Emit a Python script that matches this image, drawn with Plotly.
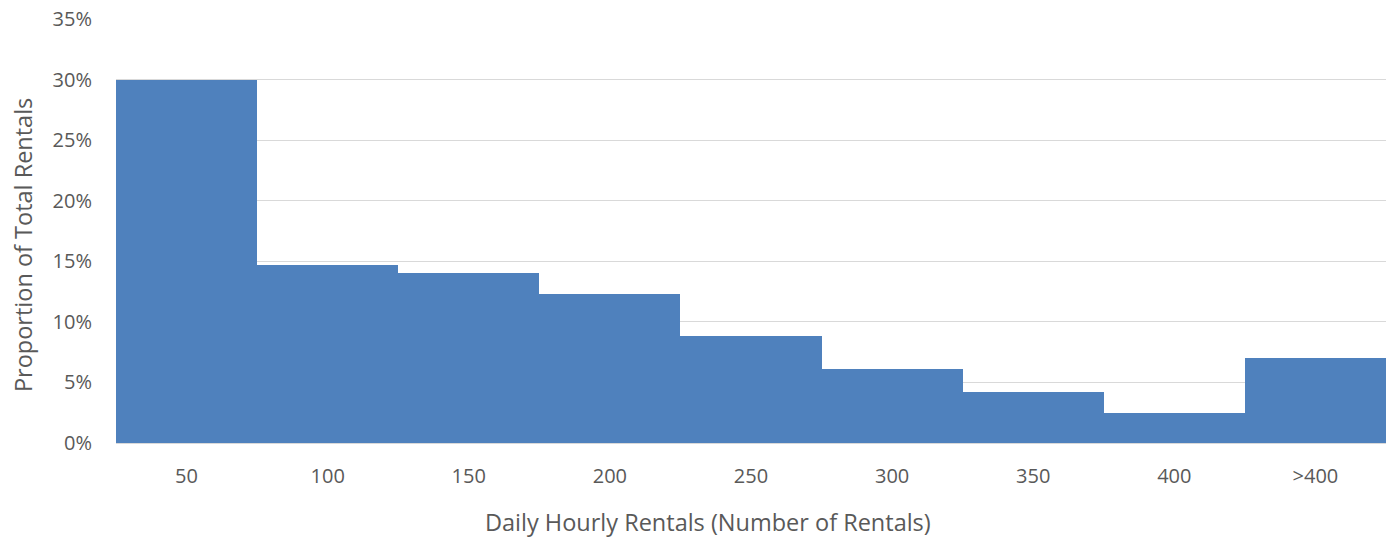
import plotly.graph_objects as go

# Daily hourly rental buckets and their share of total rentals
categories = ["50", "100", "150", "200", "250", "300", "350", "400", ">400"]
proportions = [0.300, 0.147, 0.140, 0.123, 0.088, 0.061, 0.042, 0.025, 0.070]

x_title = "Daily Hourly Rentals (Number of Rentals)"
y_title = "Proportion of Total Rentals"

fig = go.Figure(
    go.Bar(
        x=categories,
        y=proportions,
        marker=dict(color="#4F81BD", line=dict(width=0)),
        hoverinfo="x+y",
    )
)

font_family = "'Open Sans', sans-serif"
text_color = "#595959"

fig.update_layout(
    width=1392,
    height=539,
    margin=dict(l=116, r=6, t=19, b=96),
    paper_bgcolor="white",
    plot_bgcolor="white",
    bargap=0,
    showlegend=False,
    font=dict(family=font_family, color=text_color, size=20),
    xaxis=dict(
        type="category",
        showgrid=False,
        showline=True,
        linecolor="#D9D9D9",
        linewidth=1,
        ticks="",
        ticklabelstandoff=15,
        tickfont=dict(size=20, color=text_color),
    ),
    yaxis=dict(
        range=[0, 0.35],
        tickvals=[0, 0.05, 0.10, 0.15, 0.20, 0.25, 0.30, 0.35],
        tickformat=".0%",
        showgrid=True,
        gridcolor="#D9D9D9",
        gridwidth=1,
        zeroline=False,
        showline=False,
        ticks="",
        ticklabelstandoff=23,
        tickfont=dict(size=20, color=text_color),
    ),
    annotations=[
        dict(
            text=x_title, xref="paper", yref="paper",
            x=0.466, y=-0.186, xanchor="center", yanchor="middle",
            showarrow=False, font=dict(size=23.5, color=text_color),
        ),
        dict(
            text=y_title, xref="paper", yref="paper",
            x=-0.0732, y=0.467, xanchor="center", yanchor="middle",
            textangle=-90, showarrow=False,
            font=dict(size=23.5, color=text_color),
        ),
    ],
)

fig.write_html("out.html")
